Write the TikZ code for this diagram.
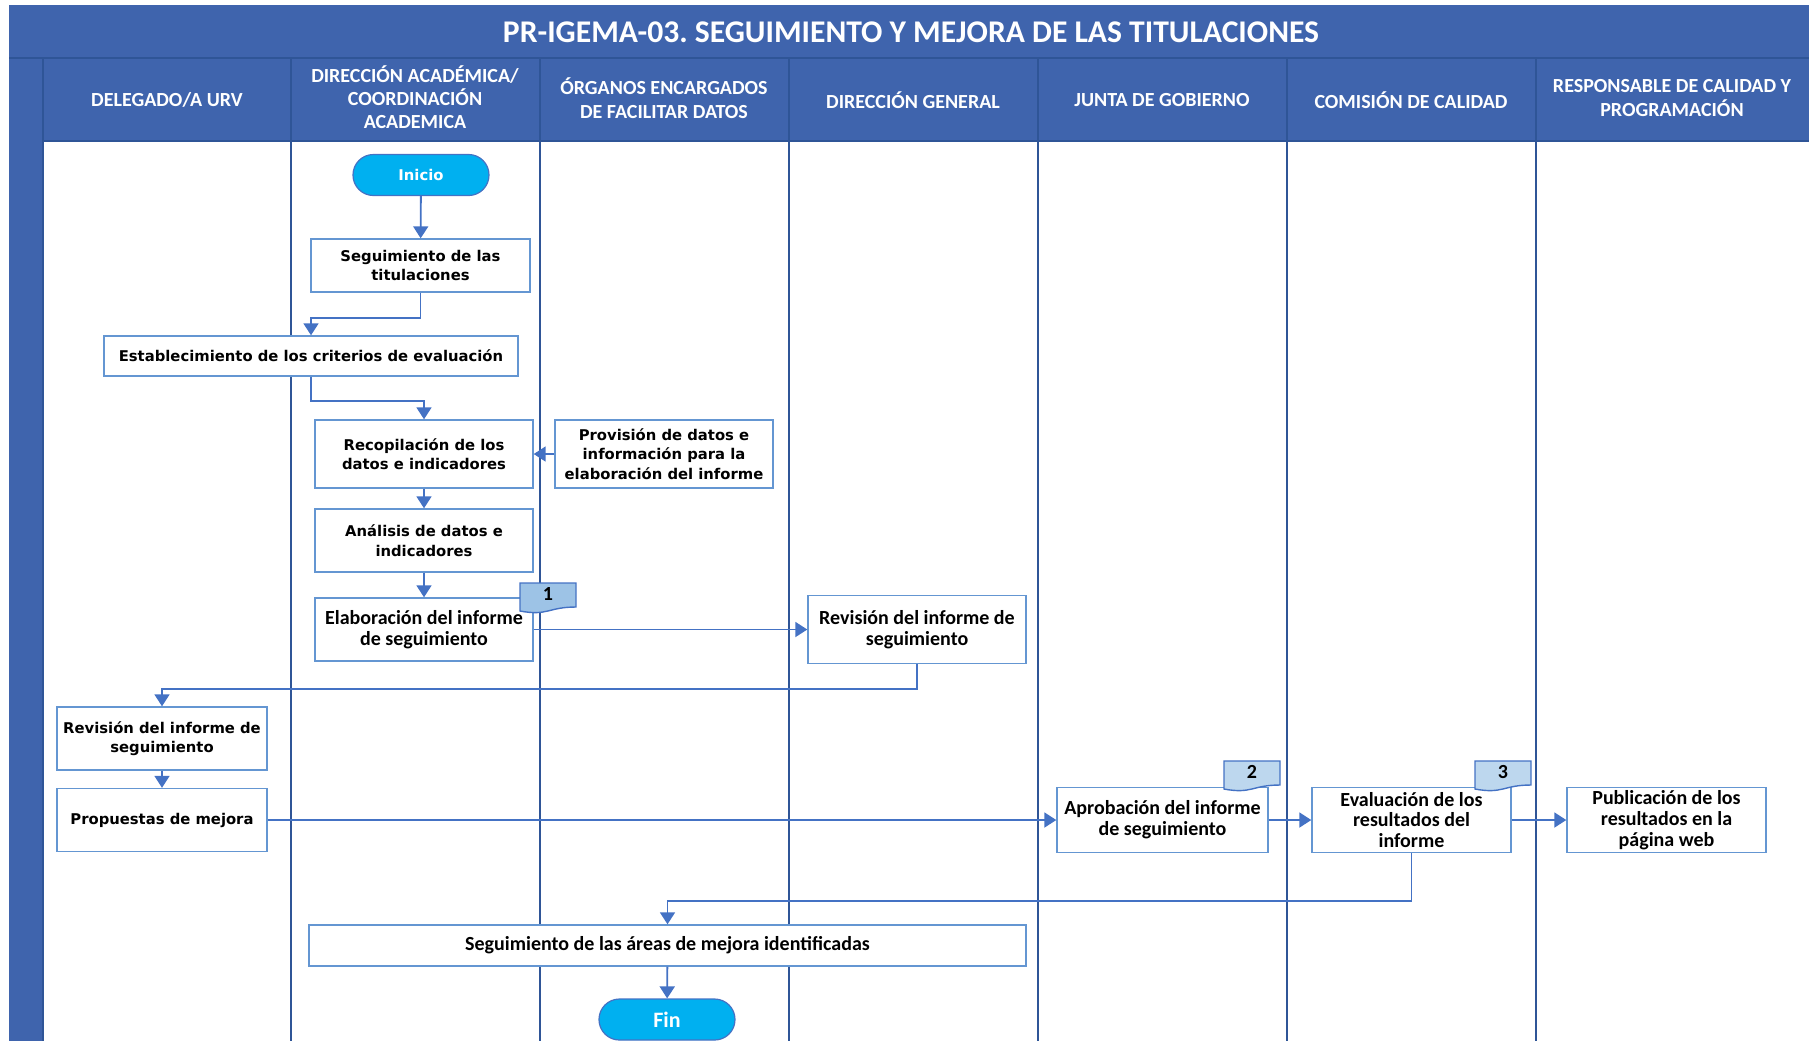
\documentclass[tikz,border=0pt]{standalone}
\usepackage{fontspec}
\setmainfont{Carlito}
\newfontfamily\verd{DejaVu Sans}
\usetikzlibrary{arrows.meta}
\definecolor{band}{RGB}{63,100,173}
\definecolor{lane}{RGB}{47,85,151}
\definecolor{edge}{RGB}{68,114,196}
\definecolor{boxline}{RGB}{100,150,210}
\definecolor{start}{RGB}{0,176,240}
\definecolor{tagA}{RGB}{157,195,230}
\definecolor{tagB}{RGB}{189,215,238}
\tikzset{
  proc/.style={draw=boxline, line width=0.7pt, fill=white, align=center,
    inner sep=0pt, font=\bfseries\fontsize{10}{10.4}\selectfont},
  procv/.style={proc, font=\verd\bfseries\fontsize{7.4}{9.8}\selectfont},
  term/.style={draw=edge, line width=0.6pt, fill=start, text=white,
    rounded corners=10.2pt, minimum width=68pt, minimum height=20.5pt, inner sep=0pt},
  hdr/.style={text=white, align=center, font=\bfseries\fontsize{10}{12}\selectfont},
  flow/.style={draw=edge, line width=0.9pt, -{Triangle[length=6pt,width=7.5pt]}},
}
\newcommand{\doctagbox}[5]{%
  \filldraw[draw=edge, line width=0.7pt, fill=#5] (#2,#3) -- ({#2+56},#3) -- ({#2+56},{#3+24})
    .. controls ({#2+28},{#3+24}) and ({#2+28},{#3+33.2}) .. (#2,{#3+28}) -- cycle;
  \node[font=\bfseries\fontsize{10}{10}\selectfont] (#1) at ({#2+28},{#3+11}) {#4};}
\frenchspacing
\begin{document}
\begin{tikzpicture}[x=0.5pt, y=-0.5pt]
      \useasboundingbox (0,0) rectangle (1809,1041);
      \fill[band] (9,5) rectangle (1809,141);
      \fill[band] (9,141) rectangle (43,1041);
      \draw[lane, line width=1pt] (9,58) -- (1809,58);
      \draw[lane, line width=1pt] (43,141) -- (1809,141);
      \foreach \x in {43,291,540,789,1038,1287,1536}
        \draw[lane, line width=1pt] (\x,58) -- (\x,1041);
      \node[text=white, font=\bfseries\fontsize{15.8}{16}\selectfont] (title) at (911,32)
        {PR-IGEMA-03. SEGUIMIENTO Y MEJORA DE LAS TITULACIONES};
      \node[hdr] (h1) at (167,100) {DELEGADO/A URV};
      \node[hdr, font=\bfseries\fontsize{10}{11.4}\selectfont] (h2) at (415,97)
        {DIRECCIÓN ACADÉMICA/\\COORDINACIÓN\\ACADEMICA};
      \node[hdr] (h3) at (664,98) {ÓRGANOS ENCARGADOS\\DE FACILITAR DATOS};
      \node[hdr] (h4) at (913,100) {DIRECCIÓN GENERAL};
      \node[hdr] (h5) at (1162,100) {JUNTA DE GOBIERNO};
      \node[hdr] (h6) at (1411,100) {COMISIÓN DE CALIDAD};
      \node[hdr] (h7) at (1672,98) {RESPONSABLE DE CALIDAD Y\\PROGRAMACIÓN};

      \node[term, font=\verd\bfseries\fontsize{7.4}{8}\selectfont] (ini) at (421,175) {Inicio};
      \node[procv, minimum width=109.5pt, minimum height=26.5pt] (segtit) at (420.5,265.5)
        {Seguimiento de las\\titulaciones};
      \node[procv, minimum width=207pt, minimum height=20pt] (estab) at (311,356)
        {Establecimiento de los criterios de evaluación};
      \node[procv, minimum width=109pt, minimum height=34pt] (recop) at (424,454)
        {Recopilación de los\\datos e indicadores};
      \node[procv, minimum width=109pt, minimum height=34pt] (provis) at (664,454)
        {Provisión de datos e\\información para la\\elaboración del informe};
      \node[procv, minimum width=109pt, minimum height=31.5pt] (anal) at (424,540.5)
        {Análisis de datos e\\indicadores};
      \node[proc, minimum width=109pt, minimum height=31.5pt] (elab) at (424,629.5)
        {Elaboración del informe\\de seguimiento};
      \node[proc, minimum width=109pt, minimum height=34pt] (revdg) at (917,629.5)
        {Revisión del informe de\\seguimiento};
      \node[procv, minimum width=105pt, minimum height=31.5pt] (revdel) at (162,738.5)
        {Revisión del informe de\\seguimiento};
      \node[procv, minimum width=105pt, minimum height=31.5pt] (prop) at (162,820)
        {Propuestas de mejora};
      \node[proc, minimum width=105.5pt, minimum height=32.5pt] (aprob) at (1162.5,820)
        {Aprobación del informe\\de seguimiento};
      \node[proc, minimum width=99.5pt, minimum height=32.5pt] (eval) at (1411.5,820)
        {Evaluación de los\\resultados del\\informe};
      \node[proc, minimum width=99.5pt, minimum height=32.5pt] (publ) at (1666.5,820)
        {Publicación de los\\resultados en la\\página web};
      \node[proc, minimum width=358.5pt, minimum height=20.5pt] (segar) at (667.5,945.5)
        {Seguimiento de las áreas de mejora identificadas};
      \node[term, font=\bfseries\fontsize{11}{11}\selectfont] (fin) at (667,1019.5) {Fin};

      \doctagbox{t1}{520}{583}{1}{tagA}
      \doctagbox{t2}{1224}{761}{2}{tagB}
      \doctagbox{t3}{1475}{761}{3}{tagB}

      \begin{scope}[flow]
        \draw (ini) to (segtit);
        \draw (segtit.south) -- ++(0,25) -| (estab.north);
        \draw (estab.south) -- ++(0,24) -| (recop.north);
        \draw (provis) to (recop);
        \draw (recop) to (anal);
        \draw (anal) to (elab);
        \draw (elab) to (revdg);
        \draw (revdg.south) -- ++(0,25) -| (revdel.north);
        \draw (revdel) to (prop);
        \draw (prop) to (aprob);
        \draw (aprob) to (eval);
        \draw (eval) to (publ);
        \draw (eval.south) -- ++(0,48) -| (segar.north);
        \draw (segar) to (fin);
      \end{scope}
    \end{tikzpicture}
\end{document}
